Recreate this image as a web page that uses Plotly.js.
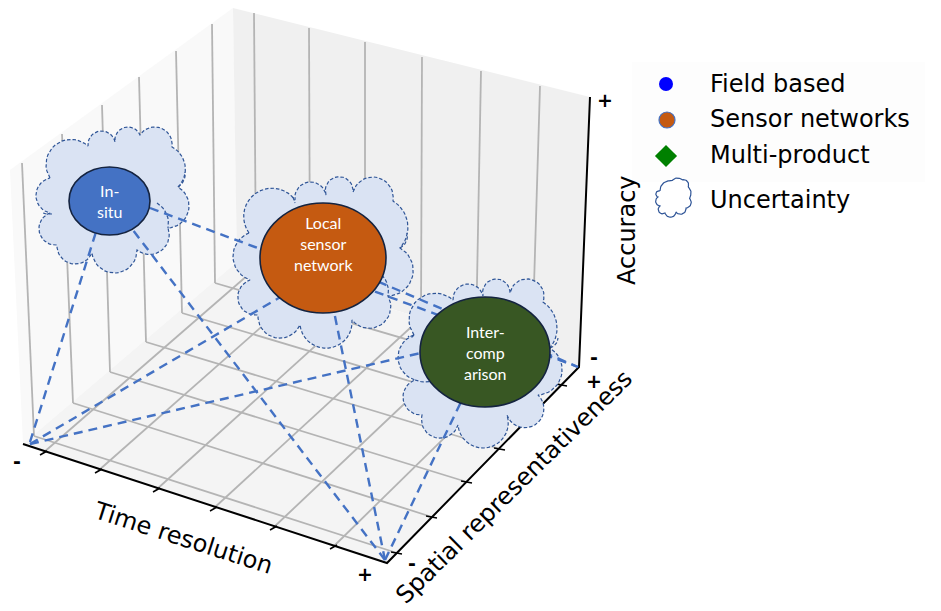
<!DOCTYPE html>
<html><head><meta charset="utf-8">
<script src="https://cdn.plot.ly/plotly-3.0.1.min.js"></script>
<style>html,body{margin:0;padding:0;background:#fff}#chart{width:941px;height:611px}</style>
</head><body><div id="chart"></div>
<script>
// ---- picture geometry (page pixels) ----
const paneLeftX  = [10,233,237,23,10];   const paneLeftY  = [170,8,262,444,170];
const paneBackX  = [233,590,579,237,233];const paneBackY  = [8,97,366,262,8];
const paneFloorX = [23,387,579,237,23];  const paneFloorY = [444,563,366,262,444];

const leftWallTopX = [22,62,102,139,176,212];
const leftWallTopY = [163,134,105,77,51,24];
const leftWallBotX = [34,73,110,146,182,215];
const leftWallBotY = [436,403,372,342,313,283];
const backWallTopX = [254,309,365,422,481,540];
const backWallTopY = [13,28,42,57,71,86];
const backWallBotX = [256,310,365,421,476,532];
const backWallBotY = [268,284,301,318,336,352];
const timeTickX = [43,98,156,213,273,333];
const timeTickY = [453,471,490,509,528,547];
const spatialTickX = [397,432,467,500,533,562];
const spatialTickY = [553,517,482,449,418,385];

const axisX = [23,387,579,590];
const axisY = [444,563,367,97];

const methodNames = ["In-<br>situ","Local<br>sensor<br>network","Inter-<br>comp<br>arison"];
const methodColors = ["#4472c4","#c55a11","#385723"];
const methodCx = [109.5,323,485];
const methodCy = [201,258,352];
const methodRx = [40.5,63,65];
const methodRy = [34,55,55];
const methodTextY = [201,243,352];

const linkStartX = [30,30,30,385,385,385,150,323];
const linkStartY = [442,444,444,560,560,560,208,258];
const linkEndX   = [106,323,485,110,323,485,578,578];
const linkEndY   = [200,272,338,200,258,352,367,367];

// cloud outlines: start point, then lobe top + next junction
const cloudInSitu = [[50,178],[58,143,88,146],[102,131,115,142],[128,127,140,135],[156,127,172,147],[185,165,178,187],[189,205,168,228],[165,247,137,250],[113,273,92,253],[77,264,57,245],[39,230,50,213],[36,197,50,178]];
const cloudLocal  = [[249,233],[262,190,295,200],[310,182,326,195],[342,177,353,192],[373,177,393,201],[407,220,400,248],[413,267,388,296],[373,328,352,320],[323,348,300,325],[283,338,258,315],[238,300,250,280],[233,257,249,233]];
const cloudInter  = [[414,335],[420,298,453,300],[468,284,483,296],[497,279,510,293],[525,279,543,302],[557,327,550,348],[562,367,538,395],[530,427,507,415],[482,448,458,425],[443,438,422,415],[403,397,415,380],[398,358,414,335]];
const cloudLegend = [[660,191],[665,182,672,181],[677,178,682,180],[687,181,688,187],[691,192,689,198],[691,204,686,208],[684,213,676,212],[672,217,665,213],[660,213,660,206],[656,203,658,197],[656,193,660,191]];
// small inner arcs where lobes overlap: start, middle, end
const tailsX = [[157,167,168],[178,184,185],[52,47,43],[400,406,407],[382,388,388],[293,294,295],[550,555,558],[414,412,408],[415,425,432]];
const tailsY = [[203,215,228],[187,180,172],[214,214,213],[248,242,233],[275,287,296],[197,200,203],[348,345,338],[335,337,336],[380,382,381]];

const legendLabels = ["Field based","Sensor networks","Multi-product","Uncertainty"];
const legendTextY = [84,119,155,200];
const legendMarkX = [666,667,666];
const legendMarkY = [84,120,156];

const signLabels = ["-","+","-","+","-","+"];
const signX = [17,365,412,594,594,605];
const signY = [461,574,563,381,357,100];

// ---- helpers ----
function arcPts(px,py,ax,ay,ex,ey,n){
  const d=2*(px*(ay-ey)+ax*(ey-py)+ex*(py-ay));
  if(Math.abs(d)<1e-6) return {x:[ex],y:[ey]};
  const p2=px*px+py*py,a2=ax*ax+ay*ay,e2=ex*ex+ey*ey;
  const ux=(p2*(ay-ey)+a2*(ey-py)+e2*(py-ay))/d;
  const uy=(p2*(ex-ax)+a2*(px-ex)+e2*(ax-px))/d;
  const r=Math.hypot(px-ux,py-uy);
  const norm=v=>{while(v<0)v+=2*Math.PI;while(v>=2*Math.PI)v-=2*Math.PI;return v;};
  const t0=Math.atan2(py-uy,px-ux);
  const ta=norm(Math.atan2(ay-uy,ax-ux)-t0), te=norm(Math.atan2(ey-uy,ex-ux)-t0);
  const sweep = ta<te ? te : te-2*Math.PI;
  const xs=[],ys=[];
  for(let k=1;k<=n;k++){const t=t0+sweep*k/n;xs.push(ux+r*Math.cos(t));ys.push(uy+r*Math.sin(t));}
  return {x:xs,y:ys};
}
function scallop(c){
  const xs=[c[0][0]], ys=[c[0][1]];
  let px=c[0][0], py=c[0][1];
  for(let i=1;i<c.length;i++){
    const [ax,ay,ex,ey]=c[i];
    const a=arcPts(px,py,ax,ay,ex,ey,18);
    xs.push(...a.x);ys.push(...a.y);
    px=ex;py=ey;
  }
  return {x:xs,y:ys};
}
const traces=[];
function pane(x,y,c){traces.push({x,y,mode:'lines',fill:'toself',fillcolor:c,line:{width:0,color:c},hoverinfo:'skip',showlegend:false});}
function seg(x,y,color,width,dash){traces.push({x,y,mode:'lines',line:{color,width,dash:dash||'solid'},hoverinfo:'skip',showlegend:false});}
function cloud(c,fill,line,width,dash){const p=scallop(c);traces.push({x:p.x,y:p.y,mode:'lines',fill:'toself',fillcolor:fill,line:{color:line,width,dash:dash||'solid'},hoverinfo:'skip',showlegend:false});}

pane([632,925,925,632,632],[62,62,182,182,62],'#fdfdfd');
pane(paneLeftX,paneLeftY,'#f9f9f9');
pane(paneBackX,paneBackY,'#f0f0f0');
pane(paneFloorX,paneFloorY,'#f4f4f4');

const gridC='#b4b4b4';
leftWallTopX.forEach((v,i)=>seg([v,leftWallBotX[i]],[leftWallTopY[i],leftWallBotY[i]],gridC,1.8));
backWallTopX.forEach((v,i)=>seg([v,backWallBotX[i]],[backWallTopY[i],backWallBotY[i]],gridC,1.8));
leftWallBotX.forEach((v,i)=>seg([v,spatialTickX[i]],[leftWallBotY[i],spatialTickY[i]],gridC,1.8));
timeTickX.forEach((v,i)=>seg([v,backWallBotX[i]],[timeTickY[i],backWallBotY[i]],gridC,1.8));

seg(axisX,axisY,'#000',2);
timeTickX.forEach((v,i)=>seg([v-3,v+4],[timeTickY[i]+2,timeTickY[i]-2],'#000',1.5));
spatialTickX.forEach((v,i)=>seg([v-6,v+5],[spatialTickY[i]-1,spatialTickY[i]+1],'#000',1.5));

const cloudFill='#dae3f3', cloudLine='#2f5597', cloudDash='3.5px,2px';
cloud(cloudInSitu,cloudFill,cloudLine,1.2,cloudDash);
cloud(cloudLocal,cloudFill,cloudLine,1.2,cloudDash);
cloud(cloudInter,cloudFill,cloudLine,1.2,cloudDash);
tailsX.forEach((tx,i)=>{
  const a=arcPts(tx[0],tailsY[i][0],tx[1],tailsY[i][1],tx[2],tailsY[i][2],8);
  seg([tx[0],...a.x],[tailsY[i][0],...a.y],cloudLine,1.2,cloudDash);
});

linkStartX.forEach((v,i)=>seg([v,linkEndX[i]],[linkStartY[i],linkEndY[i]],'#4472c4',2.4,'9px,6px'));

// legend
traces.push({x:[legendMarkX[0]],y:[legendMarkY[0]],mode:'markers',marker:{color:'#0000ff',size:14,symbol:'circle'},hoverinfo:'skip',showlegend:false});
traces.push({x:[legendMarkX[1]],y:[legendMarkY[1]],mode:'markers',marker:{color:'#c55a11',size:16,symbol:'circle',line:{color:'#4472c4',width:1.2}},hoverinfo:'skip',showlegend:false});
traces.push({x:[legendMarkX[2]],y:[legendMarkY[2]],mode:'markers',marker:{color:'#008000',size:17,symbol:'diamond'},hoverinfo:'skip',showlegend:false});
cloud(cloudLegend,'#ffffff','#2f5597',1.2);

const shapes=methodCx.map((cx,i)=>({type:'circle',xref:'x',yref:'y',layer:'above',
  x0:cx-methodRx[i],x1:cx+methodRx[i],y0:methodCy[i]-methodRy[i],y1:methodCy[i]+methodRy[i],
  fillcolor:methodColors[i],line:{color:'#14233f',width:1.6}}));

const ann=[];
function note(text,x,y,size,color,angle,xanchor,family,bold){
  ann.push({text:bold?'<b>'+text+'</b>':text,x,y,xref:'x',yref:'y',showarrow:false,textangle:angle||0,xanchor:xanchor||'center',yanchor:'middle',borderpad:0,borderwidth:0,
    font:{size,color,family:family||'DejaVu Sans, sans-serif'}});
}
methodNames.forEach((t,i)=>note(t,methodCx[i],methodTextY[i],16,'#ffffff',0,'center','Lato, sans-serif'));
legendLabels.forEach((t,i)=>note(t,710,legendTextY[i],24,'#000',0,'left'));
note('Time resolution',183,538,24,'#000',17.8);
note('Spatial representativeness',514,487,24,'#000',-44.6);
note('Accuracy',627,230,24,'#000',-90);
signLabels.forEach((t,i)=>note(t,signX[i],signY[i],19,'#000',0,'center',null,true));

Plotly.newPlot('chart',traces,{
  width:941,height:611,margin:{l:0,r:0,t:0,b:0},
  paper_bgcolor:'#fff',plot_bgcolor:'#fff',showlegend:false,hovermode:false,
  xaxis:{range:[0,941],visible:false,fixedrange:true},
  yaxis:{range:[611,0],visible:false,fixedrange:true},
  shapes,annotations:ann
},{displayModeBar:false,staticPlot:true});
</script></body></html>
